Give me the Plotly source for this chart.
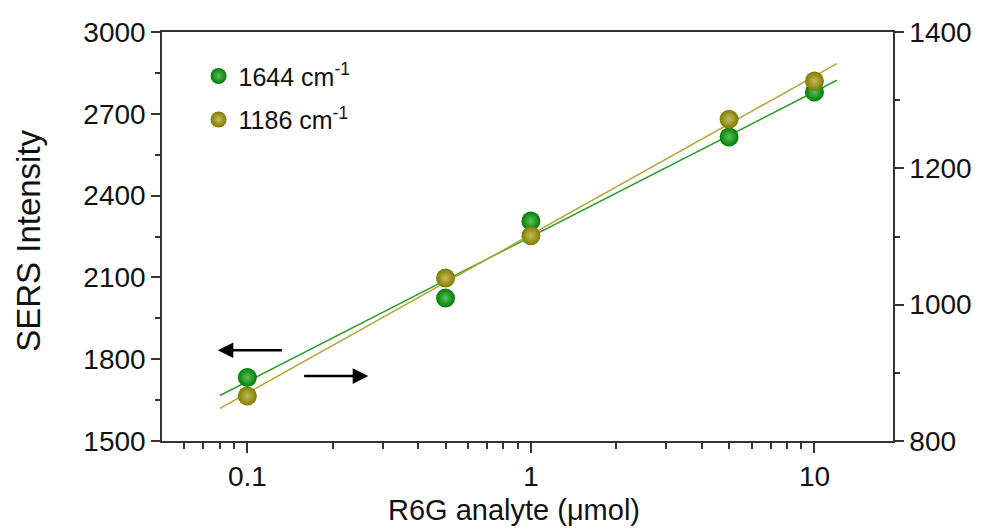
import numpy as np
import plotly.graph_objects as go

# ---- data ----
concentration = [0.1, 0.5, 1, 5, 10]
intensity_1644 = [1733, 2024, 2307, 2615, 2780]   # left axis
intensity_1186 = [866, 1039, 1101, 1272, 1328]    # right axis
fit_range = [0.08, 12]
series_names = ["1644 cm<sup>-1</sup>", "1186 cm<sup>-1</sup>"]
x_title = "R6G analyte (\u03bcmol)"
y_title = "SERS Intensity"
x_ticks = [0.1, 1, 10]
x_tick_labels = ["0.1", "1", "10"]
x_minor = [0.06, 0.07, 0.08, 0.09, 0.2, 0.3, 0.4, 0.5, 0.6, 0.7, 0.8, 0.9,
           2, 3, 4, 5, 6, 7, 8, 9]
left_ticks = [1500, 1800, 2100, 2400, 2700, 3000]
left_minor = [1650, 1950, 2250, 2550, 2850]
right_ticks = [800, 1000, 1200, 1400]
right_minor = [900, 1100, 1300]

green_marker, green_center, green_line = "#007d00", "#5cc05c", "#2ca02c"
olive_marker, olive_center, olive_line = "#807a00", "#c4bc5a", "#b3a636"


def linear_fit(xs, ys):
    slope, intercept = np.polyfit(np.log10(xs), ys, 1)
    return [slope * np.log10(v) + intercept for v in fit_range]


fig = go.Figure()

fig.add_trace(go.Scatter(x=fit_range, y=linear_fit(concentration, intensity_1644),
                         mode="lines", line=dict(color=green_line, width=1.5),
                         showlegend=False, yaxis="y"))
fig.add_trace(go.Scatter(x=fit_range, y=linear_fit(concentration, intensity_1186),
                         mode="lines", line=dict(color=olive_line, width=1.5),
                         showlegend=False, yaxis="y2"))

fig.add_trace(go.Scatter(x=concentration, y=intensity_1644, mode="markers",
                         name=series_names[0], legendgroup="a", yaxis="y",
                         marker=dict(size=19, color=green_marker,
                                     gradient=dict(type="radial", color=green_center),
                                     line=dict(width=0))))
fig.add_trace(go.Scatter(x=concentration, y=intensity_1186, mode="markers",
                         name=series_names[1], legendgroup="b", yaxis="y2",
                         marker=dict(size=19, color=olive_marker,
                                     gradient=dict(type="radial", color=olive_center),
                                     line=dict(width=0))))

font_family = "Arial, 'Liberation Sans', sans-serif"
axis_color = "#333333"

fig.update_layout(
    width=983, height=531,
    margin=dict(l=162, r=90, t=32, b=90),
    paper_bgcolor="white", plot_bgcolor="white",
    font=dict(family=font_family, color="#111111", size=28),
    xaxis=dict(type="log", range=[np.log10(0.05), 1.277],
               tickvals=x_ticks, ticktext=x_tick_labels,
               ticks="outside", ticklen=10, tickwidth=1.5, tickcolor=axis_color,
               minor=dict(tickvals=x_minor, ticks="outside", ticklen=6,
                          tickwidth=1.5, tickcolor=axis_color, showgrid=False),
               showline=True, linecolor=axis_color, linewidth=1.5, mirror=True,
               showgrid=False, zeroline=False,
               tickfont=dict(size=28)),
    yaxis=dict(range=[1500, 3000], tickvals=left_ticks,
               ticks="outside", ticklen=9, tickwidth=1.5, tickcolor=axis_color,
               minor=dict(tickvals=left_minor, ticks="outside", ticklen=5,
                          tickwidth=1.5, tickcolor=axis_color, showgrid=False),
               showline=True, linecolor=axis_color, linewidth=1.5,
               showgrid=False, zeroline=False, tickfont=dict(size=28)),
    yaxis2=dict(range=[800, 1400], tickvals=right_ticks, overlaying="y",
                side="right",
                ticks="outside", ticklen=9, tickwidth=1.5, tickcolor=axis_color,
                minor=dict(tickvals=right_minor, ticks="outside", ticklen=5,
                           tickwidth=1.5, tickcolor=axis_color, showgrid=False),
                showline=True, linecolor=axis_color, linewidth=1.5,
                showgrid=False, zeroline=False, tickfont=dict(size=28)),
    legend=dict(x=0.05, y=0.948, xanchor="left", yanchor="top",
                bgcolor="rgba(0,0,0,0)", font=dict(size=25),
                traceorder="grouped", tracegroupgap=8),
    showlegend=True,
)

# axis titles
fig.add_annotation(text=x_title, xref="paper", yref="paper", x=0.4815, y=-0.168,
                   xanchor="center", yanchor="middle", showarrow=False,
                   font=dict(size=29))
fig.add_annotation(text=y_title, xref="paper", yref="paper", x=-0.183, y=0.49,
                   xanchor="center", yanchor="middle", showarrow=False,
                   textangle=-90, font=dict(size=33))

# direction arrows (annotations on log x axis use log10 coordinates)
fig.add_annotation(x=np.log10(0.0786), y=1833, ax=np.log10(0.134), ay=1833,
                   xref="x", yref="y", axref="x", ayref="y",
                   showarrow=True, arrowhead=2, arrowsize=1.25, arrowwidth=2.5,
                   arrowcolor="black", text="")
fig.add_annotation(x=np.log10(0.267), y=1738, ax=np.log10(0.1566), ay=1738,
                   xref="x", yref="y", axref="x", ayref="y",
                   showarrow=True, arrowhead=2, arrowsize=1.25, arrowwidth=2.5,
                   arrowcolor="black", text="")

fig.write_html("out.html")
